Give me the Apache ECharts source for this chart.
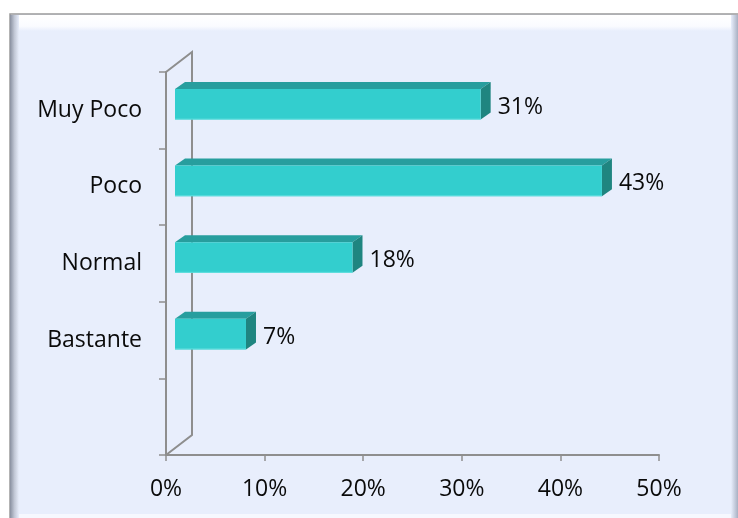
<!DOCTYPE html>
<html><head><meta charset="utf-8">
<script src="https://cdn.jsdelivr.net/npm/echarts@6/dist/echarts.min.js"></script>
<style>html,body{margin:0;padding:0;background:#fff}#c{width:738px;height:518px}</style>
</head><body><div id="c"></div>
<script>
var categories = ['Muy Poco', 'Poco', 'Normal', 'Bastante', ''];
var values = [31, 43.3, 18, 7.2];
var xTicks = [0, 10, 20, 30, 40, 50];

var FRONT = '#33CECE', TOP = '#279E9E', SIDE = '#1F8580';
var AXIS = '#8E8E8E';
var FONT = 'Open Sans';
var FS = 23;

var chart = echarts.init(document.getElementById('c'), null, {renderer: 'canvas'});
var data = values.map(function (v, i) { return [i, v]; });

var option = {
  animation: false,
  backgroundColor: '#ffffff',
  grid: {left: 166, right: 79, top: 72, bottom: 63, containLabel: false},
  xAxis: {
    type: 'value', min: xTicks[0], max: xTicks[xTicks.length - 1], interval: 10,
    axisLine: {show: true, lineStyle: {color: AXIS, width: 2}},
    axisTick: {show: true, length: 6, lineStyle: {color: AXIS, width: 1.5}},
    splitLine: {show: false},
    axisLabel: {formatter: '{value}%', fontFamily: FONT, fontSize: FS, color: '#0a0a0a', margin: 23}
  },
  yAxis: {
    type: 'category', data: categories, inverse: true,
    axisLine: {show: true, lineStyle: {color: AXIS, width: 2}},
    axisTick: {show: true, length: 7, lineStyle: {color: AXIS, width: 1.5}},
    axisLabel: {fontFamily: FONT, fontSize: FS, color: '#0a0a0a', margin: 24, padding: [9, 0, 0, 0]}
  },
  series: [{
    type: 'custom',
    data: data,
    encode: {x: 1, y: 0},
    z: 5,
    renderItem: function (params, api) {
      var idx = api.value(0), v = api.value(1);
      var p0 = api.coord([0, idx]), p1 = api.coord([v, idx]);
      var band = api.size([0, 1])[1];
      var h = band * 0.4;
      var ox = 9, oy = -6, dx = 10, dy = -7;
      var x0 = p0[0] + ox, x1 = p1[0] + ox;
      var yT = p0[1] + oy - h / 2, yB = yT + h;
      return {
        type: 'group', children: [
          {type: 'polygon', shape: {points: [[x0, yT], [x0 + dx, yT + dy], [x1 + dx, yT + dy], [x1, yT]]}, style: {fill: TOP}},
          {type: 'polygon', shape: {points: [[x1, yT], [x1 + dx, yT + dy], [x1 + dx, yB + dy], [x1, yB]]}, style: {fill: SIDE}},
          {type: 'rect', shape: {x: x0, y: yT, width: x1 - x0, height: h}, style: {fill: FRONT}},
          {type: 'line', shape: {x1: x0, y1: yB - 0.5, x2: x1, y2: yB - 0.5}, style: {stroke: '#5FDEDE', lineWidth: 1}},
          {type: 'text', style: {text: Math.round(v) + '%', x: x1 + dx + 7, y: (yT + yB) / 2 + 3, verticalAlign: 'middle', align: 'left', fontFamily: FONT, fontSize: FS, fill: '#0a0a0a'}}
        ]
      };
    }
  }]
};
chart.setOption(option);

// frame + 3D wall decoration computed from the axes
var pTL = chart.convertToPixel({gridIndex: 0}, [0, 0]);
var pBL = chart.convertToPixel({gridIndex: 0}, [0, categories.length - 1]);
var band = chart.getModel().getComponent('yAxis', 0).axis.getBandWidth();
var topY = pTL[1] - band / 2, botY = pBL[1] + band / 2, fx = pTL[0];
var wdx = 26, wdy = -20;

chart.setOption({
  graphic: [
    {type: 'rect', z: -10, silent: true, shape: {x: 10, y: 14, width: 740, height: 504},
      style: {fill: '#E8EEFC', stroke: '#9A9A9A', lineWidth: 1.5}},
    {type: 'rect', z: -9, silent: true, shape: {x: 11, y: 15, width: 740, height: 16},
      style: {fill: {type: 'linear', x: 0, y: 0, x2: 0, y2: 1, colorStops: [{offset: 0, color: '#ffffff'}, {offset: 0.7, color: '#FAFBFF'}, {offset: 1, color: '#E8EEFC'}]}}},
    {type: 'rect', z: -8, silent: true, shape: {x: 10, y: 15, width: 9, height: 503},
      style: {fill: {type: 'linear', x: 0, y: 0, x2: 1, y2: 0, colorStops: [{offset: 0, color: '#8990A0'}, {offset: 0.5, color: '#C2C8D6'}, {offset: 1, color: '#E8EEFC'}]}}},
    {type: 'rect', z: -8, silent: true, shape: {x: 731, y: 15, width: 7, height: 503},
      style: {fill: {type: 'linear', x: 0, y: 0, x2: 1, y2: 0, colorStops: [{offset: 0, color: '#E8EEFC'}, {offset: 1, color: '#A9B0C2'}]}}},
    {type: 'rect', z: -8, silent: true, shape: {x: 19, y: 514, width: 712, height: 4},
      style: {fill: '#F6F8FE'}},
    {type: 'polyline', z: 1, silent: true,
      shape: {points: [[fx, topY], [fx + wdx, topY + wdy], [fx + wdx, botY + wdy], [fx, botY]]},
      style: {stroke: AXIS, lineWidth: 2, fill: null}}
  ]
});
</script></body></html>
